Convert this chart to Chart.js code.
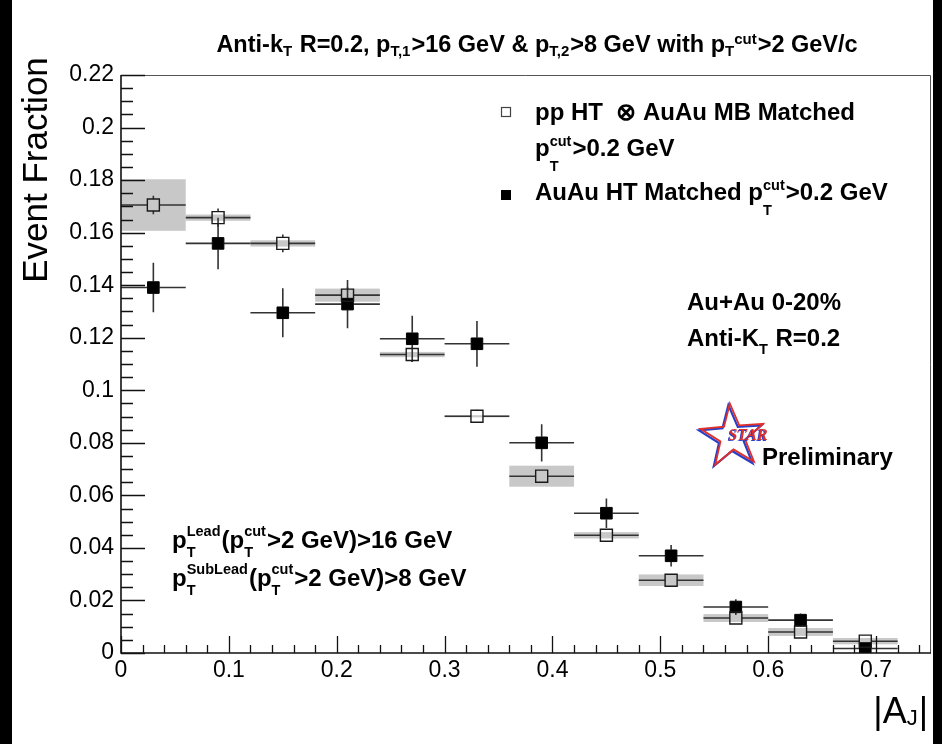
<!DOCTYPE html>
<html>
<head>
<meta charset="utf-8">
<script src="https://cdn.jsdelivr.net/npm/chart.js@4.4.1/dist/chart.umd.min.js"></script>
<style>
  html, body { margin: 0; padding: 0; background: #fff; }
  canvas { display: block; }
</style>
</head>
<body>
<canvas id="ajPlot" width="942" height="744"></canvas>
<script>
// |A_J| bin centres, each bin is 0.06 wide
const ajBins = [0.03, 0.09, 0.15, 0.21, 0.27, 0.33, 0.39, 0.45, 0.51, 0.57, 0.63, 0.69];
const ajHalfWidth = 0.03;

// pp HT (x) AuAu MB embedded, matched, pT cut > 0.2 GeV
const ppEmbFrac = [0.1705, 0.1657, 0.1559, 0.1362, 0.1136, 0.0901, 0.0673, 0.0448, 0.0277, 0.0133, 0.0080, 0.0045];
const ppEmbStat = [0.0035, 0.0035, 0.0034, 0.0030, 0.0028, 0.0025, 0.0022, 0.0018, 0.0016, 0.0012, 0.0010, 0.0010];
const ppEmbSys  = [0.0098, 0.0012, 0.0012, 0.0025, 0.0010, 0.0004, 0.0040, 0.0012, 0.0022, 0.0015, 0.0015, 0.0012];

// AuAu HT matched, pT cut > 0.2 GeV
const auauFrac = [0.1391, 0.1559, 0.1295, 0.1328, 0.1196, 0.1177, 0.0800, 0.0532, 0.0370, 0.0175, 0.0125, 0.0017];
const auauStat = [0.0094, 0.0098, 0.0093, 0.0092, 0.0088, 0.0087, 0.0071, 0.0056, 0.0041, 0.0030, 0.0025, 0.0012];

const xTicks = [0, 0.1, 0.2, 0.3, 0.4, 0.5, 0.6, 0.7];
const yTicks = [0, 0.02, 0.04, 0.06, 0.08, 0.1, 0.12, 0.14, 0.16, 0.18, 0.2, 0.22];

const FONT = '"Liberation Sans", Arial, Helvetica, sans-serif';
const LINE = '#333';
const SYS_FILL = 'rgb(200,200,200)';
const MARK_HALF = 6;
const TXT = { size: 24, small: 14.5 };

const fmtTick = v => String(+Number(v).toFixed(2));

// text with stacked or inline sub/superscripts
function drawRich(ctx, parts, x, y, o) {
  const big = `${o.weight || 'bold'} ${o.size}px ${FONT}`;
  const small = `${o.weight || 'bold'} ${o.small}px ${FONT}`;
  let w = 0;
  const items = parts.map(p => {
    if (typeof p === 'string') {
      ctx.font = big;
      const it = { text: p, dx: w };
      w += ctx.measureText(p).width;
      return it;
    }
    ctx.font = small;
    const ws = p.sub ? ctx.measureText(p.sub).width : 0;
    const wp = p.sup ? ctx.measureText(p.sup).width : 0;
    const it = { sub: p.sub, sup: p.sup, dx: w, ws, inline: p.inline };
    w += (p.inline ? ws + wp : Math.max(ws, wp)) + 1;
    return it;
  });
  const x0 = o.align === 'center' ? x - w / 2 : o.align === 'right' ? x - w : x;
  ctx.textAlign = 'left';
  ctx.textBaseline = 'alphabetic';
  ctx.fillStyle = o.color || '#000';
  items.forEach(it => {
    if (it.text !== undefined) {
      ctx.font = big;
      ctx.fillText(it.text, x0 + it.dx, y);
      return;
    }
    ctx.font = small;
    if (it.sub) ctx.fillText(it.sub, x0 + it.dx, y + o.subDy);
    if (it.sup) ctx.fillText(it.sup, x0 + it.dx + (it.inline ? it.ws : 0), y + o.supDy);
  });
}

function starPath(ctx, cx, cy, R, r, rot) {
  ctx.beginPath();
  for (let k = 0; k < 10; k++) {
    const a = rot - Math.PI / 2 + k * Math.PI / 5;
    const rr = k % 2 ? r : R;
    const px = cx + rr * Math.cos(a), py = cy + rr * Math.sin(a);
    k ? ctx.lineTo(px, py) : ctx.moveTo(px, py);
  }
  ctx.closePath();
}

const hepDecor = {
  id: 'hepDecor',
  beforeDraw(chart) {
    const ctx = chart.ctx;
    ctx.save();
    ctx.fillStyle = '#fff';
    ctx.fillRect(0, 0, chart.width, chart.height);
    ctx.fillStyle = '#000';
    ctx.fillRect(0, 0, 12, chart.height);
    ctx.fillRect(chart.width - 9, 0, 9, chart.height);
    ctx.restore();
  },
  beforeDatasetsDraw(chart) {
    const ctx = chart.ctx, xs = chart.scales.x, ys = chart.scales.y;
    ctx.save();
    // systematic boxes
    ctx.fillStyle = SYS_FILL;
    ajBins.forEach((b, i) => {
      const x1 = xs.getPixelForValue(b - ajHalfWidth), x2 = xs.getPixelForValue(b + ajHalfWidth);
      const y1 = ys.getPixelForValue(ppEmbFrac[i] + ppEmbSys[i]), y2 = ys.getPixelForValue(ppEmbFrac[i] - ppEmbSys[i]);
      ctx.fillRect(x1, y1, x2 - x1, y2 - y1);
    });
    // error bars, interrupted by the marker
    ctx.strokeStyle = LINE;
    ctx.lineWidth = 1.6;
    const bars = (vals, errs) => ajBins.forEach((b, i) => {
      const px = xs.getPixelForValue(b), py = ys.getPixelForValue(vals[i]);
      const xl = xs.getPixelForValue(b - ajHalfWidth), xr = xs.getPixelForValue(b + ajHalfWidth);
      const yt = ys.getPixelForValue(vals[i] + errs[i]), yb = ys.getPixelForValue(vals[i] - errs[i]);
      ctx.beginPath();
      ctx.moveTo(xl, py); ctx.lineTo(px - MARK_HALF, py);
      ctx.moveTo(px + MARK_HALF, py); ctx.lineTo(xr, py);
      if (py - yt > MARK_HALF) { ctx.moveTo(px, yt); ctx.lineTo(px, py - MARK_HALF); }
      if (yb - py > MARK_HALF) { ctx.moveTo(px, py + MARK_HALF); ctx.lineTo(px, yb); }
      ctx.stroke();
    });
    bars(auauFrac, auauStat);
    bars(ppEmbFrac, ppEmbStat);
    ctx.restore();
  },
  afterDraw(chart) {
    const ctx = chart.ctx, xs = chart.scales.x, ys = chart.scales.y, a = chart.chartArea;
    ctx.save();
    // frame
    ctx.strokeStyle = '#555';
    ctx.lineWidth = 1;
    ctx.beginPath();
    ctx.moveTo(a.left, a.top + 0.5); ctx.lineTo(a.right + 0.5, a.top + 0.5); ctx.lineTo(a.right + 0.5, a.bottom);
    ctx.stroke();
    ctx.strokeStyle = '#111';
    ctx.lineWidth = 1.6;
    ctx.beginPath();
    ctx.moveTo(a.left, a.top); ctx.lineTo(a.left, a.bottom); ctx.lineTo(a.right + 1, a.bottom);
    ctx.stroke();
    // inward ticks
    ctx.lineWidth = 1.3;
    ctx.beginPath();
    for (let i = 0; i < xTicks.length; i++) {
      const v0 = xTicks[i];
      const step = i + 1 < xTicks.length ? xTicks[i + 1] - v0 : xTicks[1] - xTicks[0];
      for (let k = 0; k < 5; k++) {
        const v = v0 + k * step / 5;
        if (v > xs.max + 1e-9) break;
        const px = Math.round(xs.getPixelForValue(v)) + 0.5;
        ctx.moveTo(px, a.bottom); ctx.lineTo(px, a.bottom - (k ? 8 : 17));
      }
    }
    for (let i = 0; i < yTicks.length; i++) {
      const v0 = yTicks[i];
      const n = i + 1 < yTicks.length ? 4 : 1;
      for (let k = 0; k < n; k++) {
        const v = v0 + k * (yTicks[1] - yTicks[0]) / 4;
        const py = Math.round(ys.getPixelForValue(v)) + 0.5;
        ctx.moveTo(a.left, py); ctx.lineTo(a.left + (k ? 12 : 24), py);
      }
    }
    ctx.stroke();

    // title
    drawRich(ctx, ['Anti-k', { sub: 'T' }, ' R=0.2, p', { sub: 'T,1' }, '>16 GeV & p', { sub: 'T,2' },
      '>8 GeV with p', { sub: 'T', sup: 'cut', inline: true }, '>2 GeV/c'],
      537, 52, { size: 23.5, small: 15, subDy: 4, supDy: -8, align: 'center' });

    // axis titles
    ctx.fillStyle = '#000';
    ctx.font = `35px ${FONT}`;
    ctx.textAlign = 'center';
    ctx.textBaseline = 'alphabetic';
    ctx.save();
    ctx.translate(47, 170);
    ctx.rotate(-Math.PI / 2);
    ctx.fillText('Event Fraction', 0, 0);
    ctx.restore();
    drawRich(ctx, ['|A', { sub: 'J' }, '|'], 928, 723,
      { weight: 'normal', size: 36, small: 22, subDy: 2, supDy: 0, align: 'right' });

    // legend
    ctx.strokeStyle = '#444';
    ctx.lineWidth = 1.2;
    ctx.strokeRect(501.5, 107.5, 9, 9);
    ctx.fillStyle = '#000';
    ctx.fillRect(501, 190, 10, 10);
    drawRich(ctx, ['pp HT  \u2297 AuAu MB Matched'], 535, 120, TXT);
    drawRich(ctx, ['p', { sub: 'T', sup: 'cut' }, '>0.2 GeV'], 535, 156,
      { ...TXT, subDy: 15, supDy: -10 });
    drawRich(ctx, ['AuAu HT Matched p', { sub: 'T', sup: 'cut' }, '>0.2 GeV'], 535, 200,
      { ...TXT, subDy: 15, supDy: -10 });

    // centrality / jet definition
    drawRich(ctx, ['Au+Au 0-20%'], 687, 310, TXT);
    drawRich(ctx, ['Anti-K', { sub: 'T' }, ' R=0.2'], 687, 346, { ...TXT, subDy: 8, supDy: 0 });

    // jet selection
    drawRich(ctx, ['p', { sub: 'T', sup: 'Lead' }, '(p', { sub: 'T', sup: 'cut' }, '>2 GeV)>16 GeV'], 172, 548,
      { ...TXT, subDy: 9, supDy: -12 });
    drawRich(ctx, ['p', { sub: 'T', sup: 'SubLead' }, '(p', { sub: 'T', sup: 'cut' }, '>2 GeV)>8 GeV'], 172, 586,
      { ...TXT, subDy: 9, supDy: -12 });

    // STAR Preliminary
    ctx.lineJoin = 'miter';
    ctx.lineWidth = 2.2;
    ctx.strokeStyle = '#2a3fc8';
    starPath(ctx, 731, 438, 33, 13, -0.08);
    ctx.stroke();
    ctx.strokeStyle = '#e0302a';
    ctx.lineWidth = 1.8;
    starPath(ctx, 732.5, 436.5, 33, 13, -0.08);
    ctx.stroke();
    ctx.font = `italic bold 16px "Liberation Serif", "Times New Roman", serif`;
    ctx.textAlign = 'center';
    ctx.fillStyle = '#2a3fc8';
    ctx.fillText('STAR', 747, 441);
    ctx.fillStyle = '#e0302a';
    ctx.fillText('STAR', 748, 440);
    drawRich(ctx, ['Preliminary'], 762, 465, TXT);
    ctx.restore();
  }
};

new Chart(document.getElementById('ajPlot'), {
  type: 'scatter',
  data: {
    datasets: [
      {
        label: 'pp HT \u2297 AuAu MB Matched',
        data: ajBins.map((b, i) => ({ x: b, y: ppEmbFrac[i] })),
        pointStyle: 'rect',
        pointRadius: 8.5,
        backgroundColor: 'rgba(255,255,255,0)',
        borderColor: '#1a1a1a',
        borderWidth: 1.4
      },
      {
        label: 'AuAu HT Matched',
        data: ajBins.map((b, i) => ({ x: b, y: auauFrac[i] })),
        pointStyle: 'rect',
        pointRadius: 8.2,
        backgroundColor: '#000',
        borderColor: '#000',
        borderWidth: 1
      }
    ]
  },
  options: {
    responsive: false,
    animation: false,
    devicePixelRatio: 1,
    layout: { padding: { left: 0, top: 75, right: 12, bottom: 0 } },
    plugins: { legend: { display: false }, tooltip: { enabled: false } },
    elements: { point: { hoverRadius: 8 } },
    scales: {
      x: {
        type: 'linear',
        min: 0,
        max: 0.75,
        grid: { display: false, drawTicks: false },
        border: { display: false },
        afterBuildTicks: s => { s.ticks = xTicks.map(v => ({ value: v })); },
        afterFit: s => { s.height = 91; },
        ticks: { color: '#000', font: { family: FONT, size: 23 }, padding: 4, maxRotation: 0, autoSkip: false, callback: fmtTick }
      },
      y: {
        type: 'linear',
        min: 0,
        max: 0.22,
        grid: { display: false, drawTicks: false },
        border: { display: false },
        afterBuildTicks: s => { s.ticks = yTicks.map(v => ({ value: v })); },
        afterFit: s => { s.width = 121; },
        ticks: { color: '#000', font: { family: FONT, size: 23 }, padding: 7, autoSkip: false, callback: fmtTick }
      }
    }
  },
  plugins: [hepDecor]
});
</script>
</body>
</html>
